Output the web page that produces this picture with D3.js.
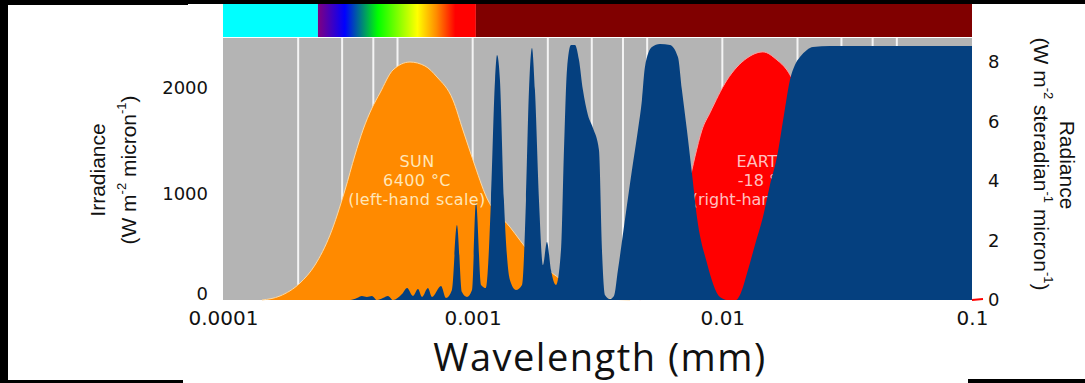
<!DOCTYPE html>
<html>
<head>
<meta charset="utf-8">
<script src="https://d3js.org/d3.v7.min.js"></script>
<style>
	html, body { margin: 0; padding: 0; background: #fff; }
	svg { display: block; }
</style>
</head>
<body>
<svg id="chart"></svg>
<script>
	// Sun irradiance, [wavelength mm, W m-2 micron-1] (left-hand scale)
	var sunData = [
		[0.0001433, 0], [0.0001692, 38], [0.0002034, 160], [0.0002336, 330],
		[0.0002683, 613], [0.0003081, 1038], [0.0003378, 1368], [0.0003636, 1604],
		[0.0003951, 1811], [0.0004253, 1953], [0.0004795, 2170], [0.000561, 2245],
		[0.000644, 2208], [0.0007194, 2104], [0.000834, 1887], [0.000914, 1604],
		[0.001003, 1321], [0.00114, 962], [0.00141, 689], [0.0017, 443],
		[0.00224, 198], [0.00269, 75], [0.00324, 19], [0.00427, 0]
	];

	// Earth radiance, [wavelength mm, W m-2 steradian-1 micron-1] (right-hand scale)
	var earthData = [
		[0.004677, 0], [0.00617, 1.34], [0.007085, 3.36], [0.007554, 4.37],
		[0.007766, 4.81], [0.008285, 5.71], [0.00892, 6.29], [0.01043, 7.39],
		[0.012545, 8.13], [0.014544, 8.34], [0.016548, 8.07], [0.018143, 7.73],
		[0.019174, 7.39], [0.02049, 6.89], [0.0246, 5.71], [0.03243, 4.03],
		[0.0514, 2.02], [0.0816, 0.67], [0.1, 0.17]
	];

	// Atmospheric absorption, [wavelength mm, percent]
	var absorbData = [
		[0.000294, 0], [0.000323, 0], [0.000344, 0.8], [0.00036, 1.6], [0.000377, 1.2],
		[0.000395, 1.6], [0.000414, 0], [0.000437, 0.8], [0.000458, 1.6], [0.00048, 0],
		[0.000521, 2.3], [0.000546, 4.7], [0.000577, 1.6], [0.000604, 4.3], [0.000627, 1.2],
		[0.000662, 4.7], [0.000687, 1.2], [0.000747, 5.5], [0.000782, 0.8], [0.000826, 3.9],
		[0.000865, 29.3], [0.000906, 3.1], [0.000949, 1.2], [0.000994, 3.9], [0.001031, 38.3],
		[0.00108, 5.9], [0.00113, 4.7], [0.001184, 39.1], [0.001229, 85.9], [0.001252, 95.7],
		[0.001286, 85.9], [0.001334, 39.1], [0.00141, 7.8], [0.001491, 3.9], [0.001576, 5.9],
		[0.001635, 39.1], [0.001681, 82], [0.001728, 98.4], [0.001776, 82], [0.001843, 39.1],
		[0.001912, 13.7], [0.001984, 22.7], [0.002059, 11.7], [0.002156, 5.9], [0.002258, 19.5],
		[0.002321, 58.6], [0.002386, 89.8], [0.002476, 99.6], [0.002569, 99.6], [0.002665, 93.8],
		[0.002765, 82], [0.002895, 72.3], [0.003032, 67.2], [0.003205, 58.6], [0.003295, 19.5],
		[0.003387, 2], [0.003547, 0.4], [0.003681, 1.6], [0.003818, 11.7], [0.004073, 31.3],
		[0.004345, 50.8], [0.004592, 66.4], [0.004764, 78.1], [0.004898, 91], [0.005225, 98.8],
		[0.005626, 100], [0.006168, 99.6], [0.00664, 94.9], [0.006889, 82], [0.007214, 66.4],
		[0.007554, 49.6], [0.007912, 32.4], [0.008677, 14.5], [0.009781, 1.2], [0.010529, 0],
		[0.011336, 0], [0.011764, 2], [0.012664, 11.7], [0.013508, 21.5], [0.014544, 32.4],
		[0.01551, 44.9], [0.016548, 55.9], [0.017651, 72.3], [0.018653, 85.9], [0.019535, 91.8],
		[0.020458, 94.9], [0.021824, 97.7], [0.023064, 98.8], [0.02697, 99.2], [0.1, 99.2]
	];

	// Spectrum bar bands [from, to] in mm
	var uvBand = [0.0001, 0.00024],
		visibleBand = [0.00024, 0.00103],
		irBand = [0.00103, 0.1];

	var xTicks = [0.0001, 0.001, 0.01, 0.1],
		xTickLabels = ['0.0001', '0.001', '0.01', '0.1'],
		gridTicks = [2e-4, 3e-4, 4e-4, 5e-4, 1e-3, 2e-3, 3e-3, 4e-3, 5e-3, 1e-2, 2e-2, 3e-2, 4e-2, 5e-2],
		leftTicks = [0, 1000, 2000],
		rightTicks = [0, 2, 4, 6, 8];

	var sunLabel = ['SUN', '6400 \u00b0C', '(left-hand scale)'],
		earthLabel = ['EARTH', '-18 \u00b0C', '(right-hand scale)'];

	var width = 1085,
		height = 383,
		plotLeft = 223,
		plotRight = 972,
		plotTop = 38,
		plotBottom = 300,
		barTop = 4;

	var x = d3.scaleLog().domain([0.0001, 0.1]).range([plotLeft, plotRight]),
		yL = d3.scaleLinear().domain([0, 2000]).range([plotBottom, 88]),
		yR = d3.scaleLinear().domain([0, 8]).range([plotBottom, 62]),
		yA = d3.scaleLinear().domain([0, 100]).range([plotBottom, 44]);

	var svg = d3.select('#chart')
		.attr('width', width)
		.attr('height', height);

	// Black scan edges
	var edges = [[0, 0, width, 4], [0, 0, 188, 5], [0, 0, 8, 381], [0, 380, 183, 3], [968, 379, 117, 4]];
	svg.append('g').selectAll('rect')
		.data(edges).enter()
		.append('rect')
			.attr('x', function (d) {return d[0];})
			.attr('y', function (d) {return d[1];})
			.attr('width', function (d) {return d[2];})
			.attr('height', function (d) {return d[3];})
			.attr('fill', '#000');

	// Spectrum gradient
	var defs = svg.append('defs');
	var grad = defs.append('linearGradient')
		.attr('id', 'visible')
		.attr('x1', 0).attr('x2', 1).attr('y1', 0).attr('y2', 0);
	[[0, '#800080'], [0.17, '#0000ff'], [0.38, '#00ff00'], [0.63, '#ffff00'],
		[0.75, '#ff8c00'], [0.87, '#ff0000'], [1, '#ff0000']].forEach(function (s) {
		grad.append('stop').attr('offset', s[0]).attr('stop-color', s[1]);
	});

	var bar = svg.append('g').attr('class', 'spectrum');
	[[uvBand, '#00ffff'], [visibleBand, 'url(#visible)'], [irBand, '#800000']].forEach(function (b) {
		bar.append('rect')
			.attr('x', x(b[0][0]))
			.attr('y', barTop)
			.attr('width', x(b[0][1]) - x(b[0][0]))
			.attr('height', plotTop - 1 - barTop)
			.attr('fill', b[1]);
	});

	// Plot background and grid
	svg.append('rect')
		.attr('x', plotLeft)
		.attr('y', plotTop)
		.attr('width', plotRight - plotLeft)
		.attr('height', plotBottom - plotTop)
		.attr('fill', '#b4b4b4');

	svg.append('g').attr('class', 'grid')
		.selectAll('line')
		.data(gridTicks).enter()
		.append('line')
			.attr('x1', x).attr('x2', x)
			.attr('y1', plotTop).attr('y2', plotBottom)
			.attr('stroke', '#f4f4f4')
			.attr('stroke-width', 2);

	// Area + outline (outline only along the top edge)
	var drawCurve = function (data, yScale, fill, edge) {
		var xf = function (d) {return x(d[0]);},
			yf = function (d) {return yScale(d[1]);};

		svg.append('path')
			.datum(data)
			.attr('d', d3.area().x(xf).y0(yScale(0)).y1(yf).curve(d3.curveMonotoneX))
			.attr('fill', fill);

		if (edge) {
			svg.append('path')
				.datum(data)
				.attr('d', d3.line().x(xf).y(yf).curve(d3.curveMonotoneX))
				.attr('fill', 'none')
				.attr('stroke', edge)
				.attr('stroke-width', 1);
		}
	};

	// Sun
	drawCurve(sunData, yL, '#ff8a00', '#ffd9a0');

	// Earth
	drawCurve(earthData, yR, '#ff0000', '#ff9c9c');

	var labelFont = '"DejaVu Sans", sans-serif';

	svg.append('g').selectAll('text')
		.data(earthLabel).enter()
		.append('text')
			.attr('x', 763)
			.attr('y', function (d, i) {return 167 + i * 19;})
			.attr('text-anchor', 'middle')
			.attr('font-family', labelFont)
			.attr('font-size', 16)
			.attr('fill', '#ffc0c0')
			.text(function (d) {return d;});

	// Atmospheric absorption
	drawCurve(absorbData, yA, '#05407f', null);

	svg.append('g').selectAll('text')
		.data(sunLabel).enter()
		.append('text')
			.attr('x', 417)
			.attr('y', function (d, i) {return 167 + i * 19;})
			.attr('text-anchor', 'middle')
			.attr('font-family', labelFont)
			.attr('font-size', 16)
			.attr('letter-spacing', 0.4)
			.attr('fill', '#ffe6b8')
			.text(function (d) {return d;});

	// Axes
	var tickFont = '"DejaVu Sans", sans-serif',
		titleFont = '"Liberation Sans", Arial, sans-serif';

	var xAxis = svg.append('g')
		.attr('transform', 'translate(0,' + plotBottom + ')')
		.call(d3.axisBottom(x)
			.tickValues(xTicks)
			.tickSize(0)
			.tickPadding(11)
			.tickFormat(function (d, i) {return xTickLabels[i];}));

	var yAxisL = svg.append('g')
		.attr('transform', 'translate(' + plotLeft + ',0)')
		.call(d3.axisLeft(yL)
			.tickValues(leftTicks)
			.tickSize(0)
			.tickPadding(15)
			.tickFormat(d3.format('d')));

	var yAxisR = svg.append('g')
		.attr('transform', 'translate(' + plotRight + ',0)')
		.call(d3.axisRight(yR)
			.tickValues(rightTicks)
			.tickSize(0)
			.tickPadding(16)
			.tickFormat(d3.format('d')));

	[xAxis, yAxisL, yAxisR].forEach(function (a) {
		a.select('.domain').remove();
		a.selectAll('text')
			.attr('font-family', tickFont)
			.attr('fill', '#111');
	});
	xAxis.selectAll('text').attr('font-size', 20);
	yAxisL.selectAll('text').attr('font-size', 18);
	yAxisR.selectAll('text').attr('font-size', 18);

	// the left zero sits just above the first wavelength label
	yAxisL.selectAll('.tick')
		.filter(function (d) {return d === 0;})
		.select('text')
			.attr('y', -6);

	// red tick at right-hand zero
	svg.append('line')
		.attr('x1', plotRight).attr('x2', plotRight + 11)
		.attr('y1', yR(0)).attr('y2', yR(0) - 1)
		.attr('stroke', '#ff0000')
		.attr('stroke-width', 2);

	// Titles
	var addTitle = function (tx, ty, rot, parts) {
		var t = svg.append('text')
			.attr('transform', 'translate(' + tx + ',' + ty + ') rotate(' + rot + ')')
			.attr('text-anchor', 'middle')
			.attr('dominant-baseline', 'central')
			.attr('font-family', titleFont)
			.attr('font-size', 21)
			.attr('fill', '#111');
		parts.forEach(function (p) {
			var s = t.append('tspan').text(p[0]);
			if (p[1]) {
				s.attr('font-size', 13).attr('dy', -7);
			} else if (p[2]) {
				s.attr('dy', 7);
			}
		});
	};

	addTitle(97, 170, -90, [['Irradiance']]);
	addTitle(128, 170, -90, [['(W m'], ['-2', true], [' micron', false, true], ['-1', true], [')', false, true]]);
	addTitle(1068, 165, 90, [['Radiance']]);
	addTitle(1042, 164, 90, [['(W m'], ['-2', true], [' steradian', false, true], ['-1', true],
		[' micron', false, true], ['-1', true], [')', false, true]]);

	svg.append('text')
		.attr('x', 600)
		.attr('y', 371)
		.attr('text-anchor', 'middle')
		.attr('font-family', '"Open Sans", sans-serif')
		.attr('font-size', 38)
		.attr('letter-spacing', 1.5)
		.attr('fill', '#111')
		.text('Wavelength (mm)');
</script>
</body>
</html>
